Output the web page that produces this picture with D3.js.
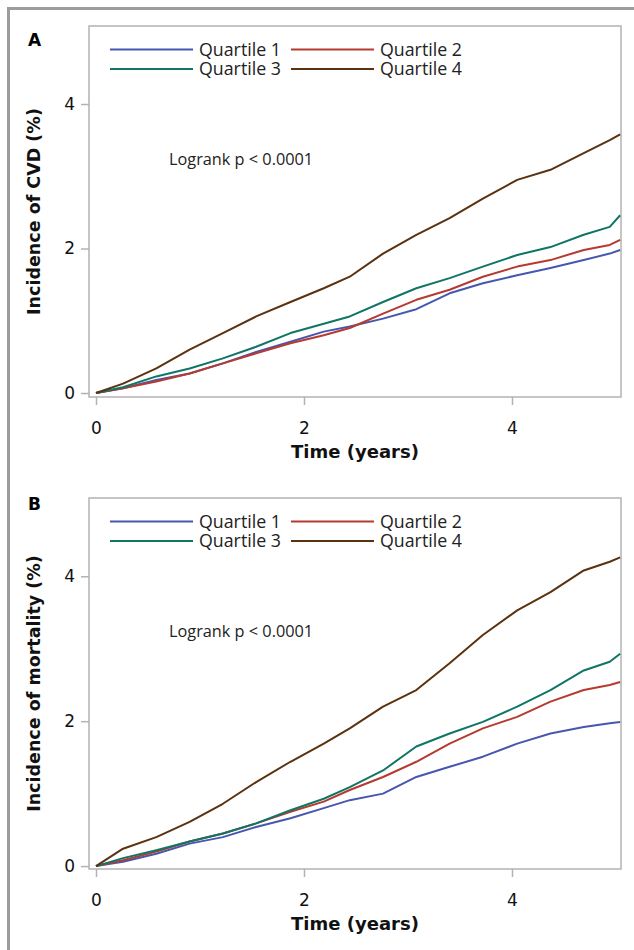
<!DOCTYPE html>
<html lang="en">
  <head>
    <meta charset="utf-8">
    <title>Cumulative incidence by quartile</title>
    <script src="https://cdn.jsdelivr.net/npm/d3@7"></script>
    <style>
      body { margin: 0; background: #fff; }
    </style>
  </head>
  <body>
    <script type="text/javascript">
      "use strict";

      // follow-up time (years), shared by every curve
      var times = [0, 0.26, 0.58, 0.90, 1.22, 1.54, 1.87, 2.19, 2.44, 2.76, 3.08, 3.40, 3.72, 4.05, 4.37, 4.69, 4.94, 5.04];

      var seriesNames = ["Quartile 1", "Quartile 2", "Quartile 3", "Quartile 4"];
      var seriesColors = ["#4657ad", "#b63a2f", "#0f7565", "#5a3210"];

      // panel A: incidence of CVD (%)
      var cvdQ1 = [0, 0.065, 0.18, 0.27, 0.41, 0.57, 0.71, 0.85, 0.92, 1.03, 1.16, 1.38, 1.52, 1.63, 1.73, 1.84, 1.93, 1.98];
      var cvdQ2 = [0, 0.065, 0.16, 0.27, 0.41, 0.55, 0.69, 0.80, 0.90, 1.10, 1.29, 1.43, 1.61, 1.75, 1.84, 1.98, 2.05, 2.12];
      var cvdQ3 = [0, 0.08, 0.23, 0.34, 0.48, 0.64, 0.83, 0.96, 1.06, 1.26, 1.45, 1.59, 1.75, 1.91, 2.02, 2.19, 2.30, 2.46];
      var cvdQ4 = [0, 0.13, 0.34, 0.60, 0.83, 1.06, 1.26, 1.45, 1.61, 1.93, 2.19, 2.42, 2.69, 2.95, 3.09, 3.32, 3.50, 3.58];

      // panel B: incidence of mortality (%)
      var mortQ1 = [0, 0.06, 0.17, 0.31, 0.40, 0.54, 0.66, 0.80, 0.91, 1.00, 1.23, 1.37, 1.51, 1.69, 1.83, 1.92, 1.97, 1.99];
      var mortQ2 = [0, 0.08, 0.20, 0.34, 0.45, 0.59, 0.75, 0.89, 1.05, 1.23, 1.44, 1.69, 1.90, 2.06, 2.27, 2.43, 2.50, 2.54];
      var mortQ3 = [0, 0.11, 0.22, 0.34, 0.45, 0.59, 0.77, 0.93, 1.09, 1.32, 1.65, 1.83, 1.99, 2.20, 2.43, 2.70, 2.82, 2.93];
      var mortQ4 = [0, 0.24, 0.40, 0.61, 0.86, 1.16, 1.44, 1.69, 1.90, 2.20, 2.43, 2.80, 3.19, 3.53, 3.78, 4.08, 4.20, 4.26];

      var xTicks = [0, 2, 4];
      var yTicks = [0, 2, 4];

      var panels = [
        { label: "A", labelY: 45.5, top: 26, yMin: -0.055, yTitle: "Incidence of CVD (%)",
          series: [cvdQ1, cvdQ2, cvdQ3, cvdQ4] },
        { label: "B", labelY: 510, top: 498, yMin: -0.04, yTitle: "Incidence of mortality (%)",
          series: [mortQ1, mortQ2, mortQ3, mortQ4] }
      ];

      var width = 634, height = 950;
      var plotLeft = 89, plotRight = 621, plotHeight = 371;
      var frameColor = "#b3b3b3";

      var svg = d3.select("body")
        .append("svg")
          .attr("width", width)
          .attr("height", height);

      // outer figure border (top and left only are visible)
      svg.append("path")
        .attr("d", "M8.5," + height + "V8.5H" + width)
        .attr("fill", "none")
        .attr("stroke", "#9c9c9c")
        .attr("stroke-width", 3);

      var x = d3.scaleLinear()
        .domain([-0.0673, 5.0481])
        .range([plotLeft, plotRight]);

      function drawPanel(p) {
        var bottom = p.top + plotHeight;
        var y = d3.scaleLinear()
          .domain([p.yMin, 5.08])
          .range([bottom, p.top]);

        var g = svg.append("g");

        // panel letter
        g.append("text")
          .attr("x", 28)
          .attr("y", p.labelY)
          .style("font-family", "DejaVu Sans")
          .style("font-weight", "bold")
          .style("font-size", "17px")
          .text(p.label);

        // axes
        var xAxis = g.append("g")
          .attr("transform", "translate(0," + bottom + ")")
          .call(d3.axisBottom(x).tickValues(xTicks).tickSize(8).tickPadding(17).tickFormat(d3.format("d")));
        var yAxis = g.append("g")
          .attr("transform", "translate(" + plotLeft + ",0)")
          .call(d3.axisLeft(y).tickValues(yTicks).tickSize(8).tickPadding(6).tickFormat(d3.format("d")));

        [xAxis, yAxis].forEach(function (a) {
          a.select(".domain").remove();
          a.selectAll(".tick line").attr("stroke", frameColor).attr("stroke-width", 1.5);
          a.selectAll(".tick text")
            .attr("fill", "#111")
            .style("font-family", "DejaVu Sans")
            .style("font-size", "17px");
        });

        // plot frame
        g.append("rect")
          .attr("x", plotLeft)
          .attr("y", p.top)
          .attr("width", plotRight - plotLeft)
          .attr("height", plotHeight)
          .attr("fill", "none")
          .attr("stroke", frameColor)
          .attr("stroke-width", 1.5);

        // axis titles
        g.append("text")
          .attr("x", (plotLeft + plotRight) / 2)
          .attr("y", bottom + 61)
          .attr("text-anchor", "middle")
          .style("font-family", "DejaVu Sans")
          .style("font-weight", "bold")
          .style("font-size", "18px")
          .attr("fill", "#111")
          .text("Time (years)");

        g.append("text")
          .attr("transform", "translate(40," + (p.top + plotHeight / 2) + ") rotate(-90)")
          .attr("text-anchor", "middle")
          .style("font-family", "DejaVu Sans")
          .style("font-weight", "bold")
          .style("font-size", "17.5px")
          .attr("fill", "#111")
          .text(p.yTitle);

        // curves
        var line = d3.line()
          .x(function (d) { return x(d[0]); })
          .y(function (d) { return y(d[1]); });

        p.series.forEach(function (vals, i) {
          var pts = times.map(function (t, j) { return [t, vals[j]]; });
          g.append("path")
            .datum(pts)
            .attr("d", line)
            .attr("fill", "none")
            .attr("stroke", seriesColors[i])
            .attr("stroke-width", 2)
            .attr("stroke-linejoin", "round");
        });

        // legend, two columns by two rows
        var legendCols = [110, 291];
        var legendRows = [p.top + 23.5, p.top + 43];
        seriesNames.forEach(function (name, i) {
          var lx = legendCols[i % 2];
          var ly = legendRows[Math.floor(i / 2)];
          g.append("line")
            .attr("x1", lx).attr("x2", lx + 83)
            .attr("y1", ly).attr("y2", ly)
            .attr("stroke", seriesColors[i])
            .attr("stroke-width", 2);
          g.append("text")
            .attr("x", lx + 89)
            .attr("y", ly)
            .attr("dy", "0.35em")
            .style("font-family", "Open Sans")
            .style("font-size", "17.8px")
            .attr("fill", "#222")
            .text(name);
        });

        g.append("text")
          .attr("x", 169)
          .attr("y", p.top + 139)
          .style("font-family", "Open Sans")
          .style("font-size", "16.3px")
          .attr("fill", "#222")
          .text("Logrank p < 0.0001");
      }

      panels.forEach(drawPanel);
    </script>
  </body>
</html>
